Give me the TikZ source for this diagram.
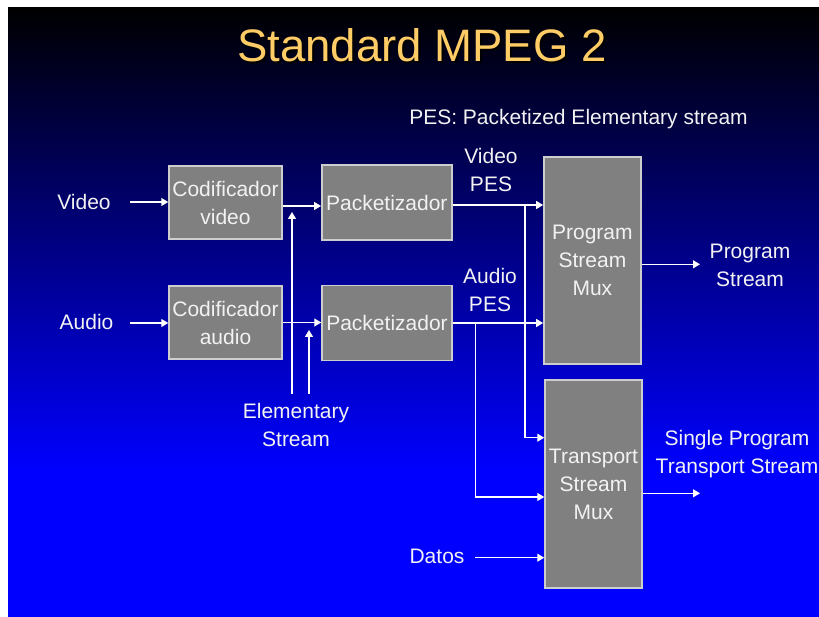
\documentclass[tikz,border=0pt]{standalone}
\usepackage{fontspec}
\setmainfont{Liberation Sans}
\usetikzlibrary{arrows.meta,calc}
\definecolor{titlegold}{RGB}{255,204,102}
\definecolor{boxgray}{RGB}{128,128,128}
\definecolor{boxedge}{RGB}{205,205,205}
\definecolor{inktext}{RGB}{242,242,242}
% slide background: black at the top fading into pure blue
\pgfdeclareverticalshading{slidebg}{100bp}{color(0bp)=(blue); color(37bp)=(blue); color(75bp)=(black); color(100bp)=(black)}
% title text with a dark drop shadow behind it
\newcommand{\shadowtitle}[1]{\makebox[0pt][l]{\hspace{2pt}\raisebox{-2pt}{\color{black}#1}}#1}
\begin{document}
\begin{tikzpicture}[x=1pt,y=-1pt,
  lbl/.style={text=inktext, font=\fontsize{21}{28}\selectfont, align=center, inner sep=0pt},
  blk/.style={draw=boxedge, line width=1.5pt, fill=boxgray, text=inktext,
              font=\fontsize{21}{28}\selectfont, align=center, inner sep=0pt},
  arr/.style={draw=white, line width=1.3pt, -{Triangle[length=7pt,width=8pt]}},
  wire/.style={draw=white, line width=1.3pt}]
\useasboundingbox (0,0) rectangle (819,617);
\fill[white] (0,0) rectangle (819,617);
\shade[shading=slidebg] (8,8) rectangle (819,617);

% title
\node[text=titlegold, font=\fontsize{45.5}{50}\selectfont, inner sep=0pt] (title) at (422,46) {\shadowtitle{Standard MPEG 2}};
\node[lbl] (pesnote) at (578.5,119) {PES: Packetized Elementary stream};

% processing blocks
\node[blk, minimum width=113pt, minimum height=73pt] (cv) at (225.5,202.5) {Codificador\\video};
\node[blk, minimum width=130pt, minimum height=75pt] (pv) at (386.8,202.5) {Packetizador};
\node[blk, minimum width=113pt, minimum height=73pt] (ca) at (225.5,322.5) {Codificador\\audio};
\node[blk, minimum width=130pt, minimum height=75pt] (pa) at (387,323) {Packetizador};
\node[blk, minimum width=97pt, minimum height=207pt] (psm) at (592.4,260.4) {Program\\Stream\\Mux};
\node[blk, minimum width=97pt, minimum height=208pt] (tsm) at (593.5,484) {Transport\\Stream\\Mux};

% labels
\node[lbl] (vin) at (84,202) {Video};
\node[lbl] (ain) at (86.5,322) {Audio};
\node[lbl] (vpes) at (491,170) {Video\\PES};
\node[lbl] (apes) at (490,290) {Audio\\PES};
\node[lbl] (es) at (296,425) {Elementary\\Stream};
\node[lbl] (datos) at (437,556) {Datos};
\node[lbl] (psout) at (750,265) {Program\\Stream};
\node[lbl] (tsout) at (737,454) {Single Program\\Transport Stream};

% free ends and junctions
\coordinate (vsrc) at (130,202);
\coordinate (asrc) at (130,323);
\coordinate (es1) at (292,394);
\coordinate (es2) at (309,394);
\coordinate (es1tip) at (292,212);
\coordinate (es2tip) at (309,330);
\coordinate (vbr) at (525,205);
\coordinate (abr) at (475.7,323);
\coordinate (dsrc) at (475,557.7);
\coordinate (psend) at (700,264.3);
\coordinate (tsend) at (700,493.3);

% inputs
\draw[arr] (vsrc) -- (vsrc -| cv.west);
\draw[arr] (asrc) -- (asrc -| ca.west);
\draw[arr] ([yshift=-3.5pt]cv.east) coordinate (cvo) -- (cvo -| pv.west);
\draw[arr] (ca.east) -- (ca.east -| pa.west);
\draw[arr] (es1) -- (es1tip);
\draw[arr] (es2) -- (es2tip);

% packetized streams to the multiplexers
\draw[arr] ([yshift=-2.5pt]pv.east) coordinate (pvo) -- (pvo -| psm.west);
\draw[arr] (pa.east) -- (pa.east -| psm.west);
\draw[arr] (vbr) |- ([yshift=46.3pt]tsm.west);
\draw[arr] (abr) |- ([yshift=-13pt]tsm.west);
\draw[arr] (dsrc) -- (dsrc -| tsm.west);

% outputs
\draw[arr] (psend -| psm.east) -- (psend);
\draw[arr] (tsend -| tsm.east) -- (tsend);
\end{tikzpicture}
\end{document}
